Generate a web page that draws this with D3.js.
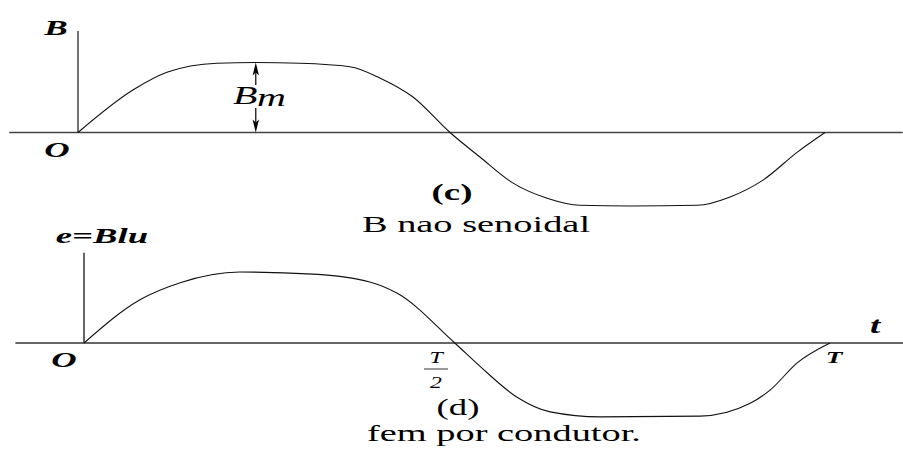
<!DOCTYPE html>
<html>
<head>
<meta charset="utf-8">
<script src="https://cdn.jsdelivr.net/npm/d3@7"></script>
<style>
  html, body { margin: 0; padding: 0; background: #fff; }
  svg { display: block; }
</style>
</head>
<body>
<svg id="chart" width="903" height="450"></svg>
<script>
// Flux density B over one period (time as a fraction of T, value as a fraction of Bm)
const bTime  = [0, 0.074, 0.119, 0.186, 0.238, 0.297, 0.364, 0.404, 0.448, 0.498, 0.538, 0.582, 0.628, 0.672, 0.739, 0.829, 0.873, 0.917, 0.963, 1];
const bValue = [0, 0.61, 0.86, 0.99, 1.0, 0.99, 0.94, 0.78, 0.51, 0, -0.35, -0.72, -0.94, -1.04, -1.05, -1.04, -0.92, -0.68, -0.28, 0];

// Induced emf per conductor e = B·l·u over the same period
const eTime  = [0, 0.075, 0.129, 0.209, 0.307, 0.383, 0.42, 0.497, 0.532, 0.58, 0.625, 0.692, 0.826, 0.893, 0.92, 0.956, 1];
const eValue = [0, 0.61, 0.85, 1.0, 0.97, 0.86, 0.70, 0, -0.34, -0.76, -0.97, -1.04, -1.03, -0.85, -0.66, -0.28, 0];

// Axis extents (time fraction of T / value fraction of peak)
const topAxisT = [-0.092, 1.104], topAxisV = 1.45;
const botAxisT = [-0.092, 1.104], botAxisV = 1.27;
const bmTime = 0.238;            // where the Bm dimension arrow sits
const periodTicks = [
  { t: 0.5, kind: "half" },
  { t: 1.0, kind: "full" }
];

const SERIF = '"Liberation Serif", "DejaVu Serif", "Times New Roman", Times, serif';
const svg = d3.select("#chart");
const SX = 1.6; // horizontal stretch of the lettering

function label(x, y, txt, o = {}) {
  return svg.append("text")
    .attr("transform", `translate(${x},${y}) scale(${o.sx || SX},1)`)
    .attr("text-anchor", o.anchor || "middle")
    .attr("font-family", SERIF)
    .attr("font-size", o.size || 24)
    .attr("font-style", o.italic ? "italic" : "normal")
    .attr("font-weight", o.bold ? "bold" : "normal")
    .attr("fill", "#000")
    .text(txt);
}

// ---------- panel (c): B ----------
const xB = d3.scaleLinear().domain([0, 1]).range([78, 825]);
const yB = d3.scaleLinear().domain([0, 1]).range([132.5, 62.5]);

svg.append("line")
  .attr("x1", xB(topAxisT[0])).attr("x2", xB(topAxisT[1]))
  .attr("y1", yB(0)).attr("y2", yB(0))
  .attr("stroke", "#444").attr("stroke-width", 1.5);
svg.append("line")
  .attr("x1", xB(0)).attr("x2", xB(0))
  .attr("y1", yB(0)).attr("y2", yB(topAxisV))
  .attr("stroke", "#444").attr("stroke-width", 1.5);

const lineB = d3.line()
  .x((d, i) => xB(bTime[i]))
  .y(d => yB(d))
  .curve(d3.curveMonotoneX);
svg.append("path")
  .attr("d", lineB(bValue))
  .attr("fill", "none").attr("stroke", "#111").attr("stroke-width", 1.1);

// Bm dimension arrow
const ax = xB(bmTime);
svg.append("line").attr("x1", ax).attr("x2", ax).attr("y1", yB(1) + 10).attr("y2", 85)
  .attr("stroke", "#000").attr("stroke-width", 1.2);
svg.append("line").attr("x1", ax).attr("x2", ax).attr("y1", 108).attr("y2", yB(0) - 10)
  .attr("stroke", "#000").attr("stroke-width", 1.2);
svg.append("path")
  .attr("d", `M${ax},${yB(1)} L${ax - 3.2},${yB(1) + 13} L${ax},${yB(1) + 10} L${ax + 3.2},${yB(1) + 13} Z`)
  .attr("fill", "#000");
svg.append("path")
  .attr("d", `M${ax},${yB(0)} L${ax - 3.2},${yB(0) - 13} L${ax},${yB(0) - 10} L${ax + 3.2},${yB(0) - 13} Z`)
  .attr("fill", "#000");

label(56, 35, "B", { size: 22, italic: true, bold: true });
label(57, 157, "O", { size: 22, italic: true, bold: true });
label(233, 104, "B", { size: 25, italic: true, anchor: "start" });
label(257, 106, "m", { size: 25, italic: true, anchor: "start" });
label(452, 200, "(c)", { size: 23, bold: true });
label(476, 232, "B nao senoidal", { size: 24 });

// ---------- panel (d): e ----------
const xE = d3.scaleLinear().domain([0, 1]).range([84, 830]);
const yE = d3.scaleLinear().domain([0, 1]).range([343, 272]);

svg.append("line")
  .attr("x1", xE(botAxisT[0])).attr("x2", xE(botAxisT[1]))
  .attr("y1", yE(0)).attr("y2", yE(0))
  .attr("stroke", "#333").attr("stroke-width", 1.5);
svg.append("line")
  .attr("x1", xE(0)).attr("x2", xE(0))
  .attr("y1", yE(0)).attr("y2", yE(botAxisV))
  .attr("stroke", "#333").attr("stroke-width", 1.5);

const lineE = d3.line()
  .x((d, i) => xE(eTime[i]))
  .y(d => yE(d))
  .curve(d3.curveMonotoneX);
svg.append("path")
  .attr("d", lineE(eValue))
  .attr("fill", "none").attr("stroke", "#111").attr("stroke-width", 1.1);

label(102, 243, "e=Blu", { size: 21, italic: true, bold: true, sx: 1.75 });
label(64, 367, "O", { size: 22, italic: true, bold: true });
label(875, 333, "t", { size: 23, italic: true, bold: true });

periodTicks.forEach(p => {
  const px = xE(p.t);
  if (p.kind === "half") {
    const cx = px - 21;
    label(cx, 363, "T", { size: 17, italic: true, sx: 1.4 });
    svg.append("line").attr("x1", cx - 12).attr("x2", cx + 12)
      .attr("y1", 369).attr("y2", 369).attr("stroke", "#333").attr("stroke-width", 1);
    label(cx, 388, "2", { size: 17, italic: true, sx: 1.4 });
  } else {
    label(px + 4, 363, "T", { size: 17, italic: true, bold: true, sx: 1.6 });
  }
});

label(458, 415, "(d)", { size: 23 });
label(504, 441, "fem por condutor.", { size: 24 });
</script>
</body>
</html>
